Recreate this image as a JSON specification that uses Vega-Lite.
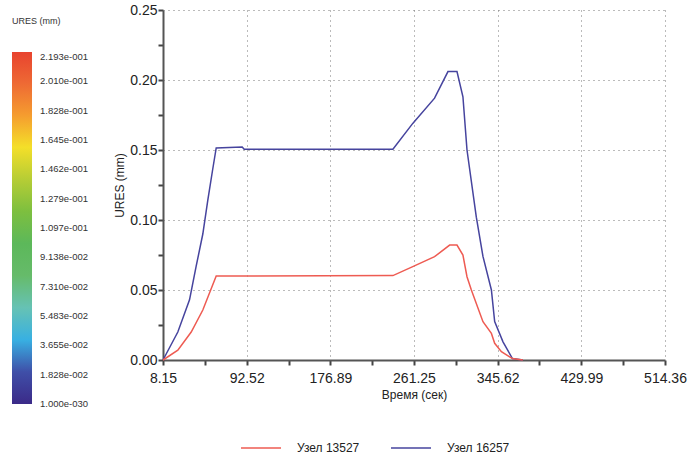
{
  "$schema": "https://vega.github.io/schema/vega-lite/v6.json",
  "width": 502,
  "height": 350,
  "autosize": "none",
  "padding": {"left": 163, "top": 10, "right": 31, "bottom": 108},
  "background": "white",
  "config": {
    "view": {"stroke": null},
    "font": "Liberation Sans",
    "axis": {"labelFont": "Liberation Sans", "titleFont": "Liberation Sans"},
    "legend": {"labelFont": "Liberation Sans", "titleFont": "Liberation Sans"}
  },
  "datasets": {
    "series": [
      {"t": 8.15, "v": 0, "node": "Узел 16257"},
      {"t": 23.1, "v": 0.02, "node": "Узел 16257"},
      {"t": 34.9, "v": 0.043, "node": "Узел 16257"},
      {"t": 41.6, "v": 0.067, "node": "Узел 16257"},
      {"t": 48.3, "v": 0.09, "node": "Узел 16257"},
      {"t": 53.3, "v": 0.114, "node": "Узел 16257"},
      {"t": 58, "v": 0.135, "node": "Узел 16257"},
      {"t": 61.8, "v": 0.1515, "node": "Узел 16257"},
      {"t": 88, "v": 0.1522, "node": "Узел 16257"},
      {"t": 90, "v": 0.1505, "node": "Узел 16257"},
      {"t": 240, "v": 0.1505, "node": "Узел 16257"},
      {"t": 260, "v": 0.169, "node": "Узел 16257"},
      {"t": 282, "v": 0.187, "node": "Узел 16257"},
      {"t": 295.5, "v": 0.206, "node": "Узел 16257"},
      {"t": 304.6, "v": 0.206, "node": "Узел 16257"},
      {"t": 310.6, "v": 0.188, "node": "Узел 16257"},
      {"t": 314.7, "v": 0.15, "node": "Узел 16257"},
      {"t": 324.1, "v": 0.102, "node": "Узел 16257"},
      {"t": 330.8, "v": 0.074, "node": "Узел 16257"},
      {"t": 339.3, "v": 0.05, "node": "Узел 16257"},
      {"t": 342.6, "v": 0.0274, "node": "Узел 16257"},
      {"t": 351, "v": 0.013, "node": "Узел 16257"},
      {"t": 360.5, "v": 0.001, "node": "Узел 16257"},
      {"t": 371, "v": 0, "node": "Узел 16257"},
      {"t": 8.15, "v": 0, "node": "Узел 13527"},
      {"t": 23.1, "v": 0.007, "node": "Узел 13527"},
      {"t": 36.6, "v": 0.02, "node": "Узел 13527"},
      {"t": 48.3, "v": 0.0357, "node": "Узел 13527"},
      {"t": 61.8, "v": 0.06, "node": "Узел 13527"},
      {"t": 240, "v": 0.0603, "node": "Узел 13527"},
      {"t": 260, "v": 0.0667, "node": "Узел 13527"},
      {"t": 282, "v": 0.0738, "node": "Узел 13527"},
      {"t": 297.2, "v": 0.0821, "node": "Узел 13527"},
      {"t": 304.6, "v": 0.0821, "node": "Узел 13527"},
      {"t": 310.6, "v": 0.075, "node": "Узел 13527"},
      {"t": 314.7, "v": 0.0595, "node": "Узел 13527"},
      {"t": 319.1, "v": 0.05, "node": "Узел 13527"},
      {"t": 330.8, "v": 0.0274, "node": "Узел 13527"},
      {"t": 339.3, "v": 0.019, "node": "Узел 13527"},
      {"t": 342.6, "v": 0.0119, "node": "Узел 13527"},
      {"t": 349.4, "v": 0.006, "node": "Узел 13527"},
      {"t": 360.5, "v": 0.001, "node": "Узел 13527"},
      {"t": 371, "v": 0, "node": "Узел 13527"}
    ],
    "scaleBar": [
      {"u": 1e-30}, {"u": 0.01828}, {"u": 0.03655}, {"u": 0.05483}, {"u": 0.0731},
      {"u": 0.09138}, {"u": 0.1097}, {"u": 0.1279}, {"u": 0.1462}, {"u": 0.1645},
      {"u": 0.1828}, {"u": 0.201}, {"u": 0.2193}
    ]
  },
  "layer": [
    {
      "data": {"name": "scaleBar"},
      "mark": {"type": "point", "filled": true, "opacity": 0},
      "encoding": {
        "fill": {
          "field": "u",
          "type": "quantitative",
          "title": "URES (mm)",
          "scale": {
            "domain": [0, 0.2193],
            "range": ["#3b2a88", "#3f4fa8", "#38b0e2", "#66c2b4", "#66bb6a", "#5cb85a", "#7cbf3f", "#b5cd35", "#f4e12a", "#f59d2f", "#ee6a34", "#e8432f"]
          },
          "legend": {
            "orient": "none",
            "legendX": -151,
            "legendY": 7,
            "type": "gradient",
            "direction": "vertical",
            "gradientLength": 352,
            "gradientThickness": 20,
            "gradientStrokeWidth": 0,
            "values": [1e-30, 0.01828, 0.03655, 0.05483, 0.0731, 0.09138, 0.1097, 0.1279, 0.1462, 0.1645, 0.1828, 0.201, 0.2193],
            "labelExpr": "datum.value < 1e-10 ? '1.000e-030' : replace(format(datum.value, '.3e'), 'e-', 'e-00')",
            "labelOverlap": false,
            "labelFontSize": 9.5,
            "labelColor": "#333",
            "labelOffset": 8,
            "titleFontSize": 9,
            "titleFontWeight": "normal",
            "titleColor": "#333",
            "titlePadding": 26,
            "titleLimit": 200
          }
        }
      }
    },
    {
      "data": {"name": "series"},
      "mark": {"type": "line", "strokeWidth": 1.5},
      "encoding": {
        "x": {
          "field": "t",
          "type": "quantitative",
          "title": "Время (сек)",
          "scale": {"domain": [8.15, 514.36], "nice": false, "zero": false},
          "axis": {
            "values": [8.15, 50.335, 92.52, 134.705, 176.89, 219.07, 261.25, 303.435, 345.62, 387.805, 429.99, 472.175, 514.36],
            "labelExpr": "indexof([8.15, 92.52, 176.89, 261.25, 345.62, 429.99, 514.36], datum.value) >= 0 ? format(datum.value, '.2f') : ''",
            "labelFontSize": 14,
            "labelColor": "#222",
            "labelPadding": 6,
            "labelFlush": false,
            "labelOverlap": false,
            "domainColor": "#555",
            "domainWidth": 2,
            "tickColor": "#444",
            "tickSize": 5,
            "tickWidth": 2,
            "grid": true,
            "gridColor": "#777",
            "gridDash": [1, 4],
            "gridWidth": 1,
            "gridOpacity": {"condition": {"test": "indexof([92.52, 176.89, 261.25, 345.62, 429.99, 514.36], datum.value) >= 0", "value": 1}, "value": 0},
            "titleFontSize": 12,
            "titleFontWeight": "normal",
            "titleColor": "#222",
            "titlePadding": 4
          }
        },
        "y": {
          "field": "v",
          "type": "quantitative",
          "title": "URES (mm)",
          "scale": {"domain": [0, 0.25], "nice": false},
          "axis": {
            "values": [0, 0.025, 0.05, 0.075, 0.1, 0.125, 0.15, 0.175, 0.2, 0.225, 0.25],
            "labelExpr": "round(datum.value * 1000) % 50 == 0 ? format(datum.value, '.2f') : ''",
            "labelFontSize": 14,
            "labelColor": "#222",
            "labelPadding": 1,
            "labelFlush": false,
            "labelOverlap": false,
            "domainColor": "#555",
            "domainWidth": 2,
            "tickColor": "#444",
            "tickSize": 5,
            "tickWidth": 2,
            "grid": true,
            "gridColor": "#777",
            "gridDash": [1, 4],
            "gridWidth": 1,
            "gridOpacity": {"condition": {"test": "round(datum.value * 1000) % 50 == 0 && datum.value > 0", "value": 1}, "value": 0},
            "titleFontSize": 12,
            "titleFontWeight": "normal",
            "titleColor": "#222",
            "titlePadding": 3
          }
        },
        "stroke": {
          "field": "node",
          "type": "nominal",
          "title": null,
          "scale": {"domain": ["Узел 13527", "Узел 16257"], "range": ["#ee5b52", "#46449e"]},
          "legend": {
            "orient": "none",
            "legendX": 77,
            "legendY": 417,
            "direction": "horizontal",
            "symbolType": "stroke",
            "symbolSize": 1600,
            "symbolStrokeWidth": 1.5,
            "labelFontSize": 12,
            "labelColor": "#222",
            "labelOffset": 15,
            "columnPadding": 28
          }
        }
      }
    }
  ]
}
